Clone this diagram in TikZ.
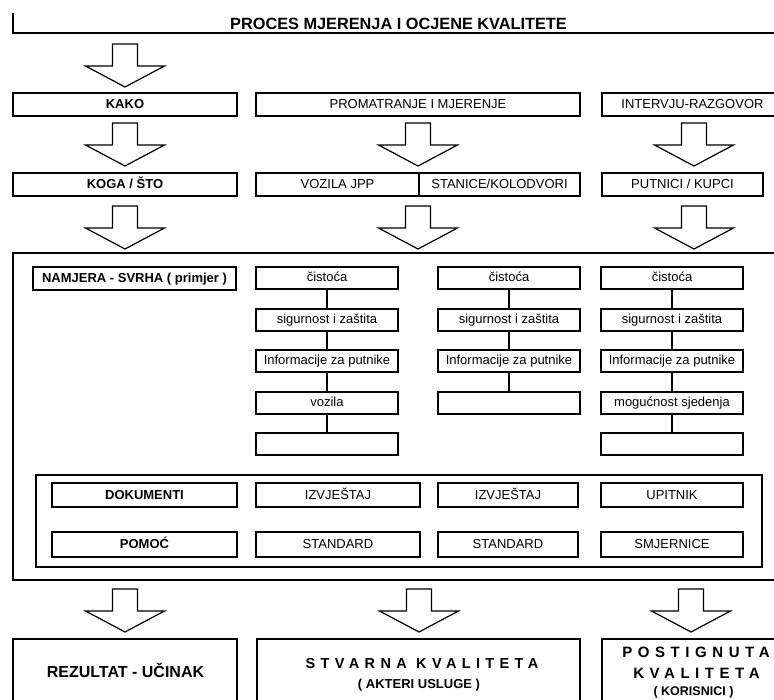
\documentclass[tikz,border=0pt]{standalone}
\usepackage{fontspec}
\setmainfont{Liberation Sans}
\usetikzlibrary{calc}
\newcommand\mybox[7][]{\node[boxst,#1,minimum width={#5-#3},minimum height={#6-#4}] (#2) at ({(#3+#5)/2},{(#4+#6)/2}) {#7};}
\begin{document}
\begin{tikzpicture}[x=1pt,y=-1pt,
  boxst/.style={draw, line width=1.5pt, inner sep=0pt, outer sep=0pt, text height=9.5pt, text depth=1.5pt, font=\fontsize{13}{15}\selectfont},
  bold/.style={font=\bfseries\fontsize{13}{15}\selectfont},
  frameln/.style={line width=1.8pt},
  conn/.style={line width=1.4pt},
  blockarrow/.pic={\draw[line width=1.2pt, line join=miter] (-12.5,0) -- (12.5,0) -- (12.5,22) -- (39.5,22) -- (0,43) -- (-39.5,22) -- (-12.5,22) -- cycle;},
  restext/.style={anchor=base, inner sep=0pt, font=\bfseries\fontsize{15}{17}\selectfont},
  spaced/.style={anchor=base, inner sep=0pt, font=\bfseries\fontsize{14.5}{17}\selectfont\addfontfeatures{LetterSpace=37}},
  subtext/.style={anchor=base, inner sep=0pt, font=\bfseries\fontsize{12.5}{14}\selectfont}
]
\useasboundingbox (0,0) rectangle (774,700);
\clip (0,0) rectangle (774,700);
\fill[white] (0,0) rectangle (774,700);

% title
\node[anchor=base, inner sep=0pt, font=\bfseries\fontsize{16.3}{18}\selectfont] (title) at (398.5,30) {PROCES MJERENJA I OCJENE KVALITETE};
\draw[frameln] (13,13) -- (13,33) -- (790,33);

\pic at (125,44) {blockarrow};

% row 1
\mybox[bold]{kako}{13}{93}{237}{116}{KAKO}
\mybox{prom}{256}{93}{580}{116}{PROMATRANJE I MJERENJE}
\mybox{interv}{602}{93}{783}{116}{INTERVJU-RAZGOVOR}

\pic at (125,123) {blockarrow};
\pic at (418,123) {blockarrow};
\pic at (694,123) {blockarrow};

% row 2
\mybox[bold]{koga}{13}{173}{237}{196}{KOGA / ŠTO}
\mybox{vozila}{256}{173}{419}{196}{VOZILA JPP}
\mybox{stanice}{419}{173}{580}{196}{STANICE/KOLODVORI}
\mybox{putnici}{602}{173}{763}{196}{PUTNICI / KUPCI}

\pic at (125,206) {blockarrow};
\pic at (418,206) {blockarrow};
\pic at (694,206) {blockarrow};

% main box
\mybox[line width=1.8pt]{main}{13}{253}{790}{580}{}
\mybox[bold]{namjera}{33}{267}{236}{290}{NAMJERA - SVRHA ( primjer )}

% column 1
\mybox{aa}{256}{267}{398}{289}{čistoća}
\mybox{ab}{256}{309}{398}{331}{sigurnost i zaštita}
\mybox{ac}{256}{350}{398}{372}{Informacije za putnike}
\mybox{ad}{256}{392}{398}{414}{vozila}
\mybox{ae}{256}{433}{398}{455}{}
\draw[conn] (aa) -- (ab); \draw[conn] (ab) -- (ac); \draw[conn] (ac) -- (ad); \draw[conn] (ad) -- (ae);

% column 2
\mybox{ba}{438}{267}{580}{289}{čistoća}
\mybox{bb}{438}{309}{580}{331}{sigurnost i zaštita}
\mybox{bc}{438}{350}{580}{372}{Informacije za putnike}
\mybox{bd}{438}{392}{580}{414}{}
\draw[conn] (ba) -- (bb); \draw[conn] (bb) -- (bc); \draw[conn] (bc) -- (bd);

% column 3
\mybox{ca}{601}{267}{743}{289}{čistoća}
\mybox{cb}{601}{309}{743}{331}{sigurnost i zaštita}
\mybox{cc}{601}{350}{743}{372}{Informacije za putnike}
\mybox{cd}{601}{392}{743}{414}{mogućnost sjedenja}
\mybox{ce}{601}{433}{743}{455}{}
\draw[conn] (ca) -- (cb); \draw[conn] (cb) -- (cc); \draw[conn] (cc) -- (cd); \draw[conn] (cd) -- (ce);

% inner box
\mybox[line width=1.8pt]{inner}{36}{475}{762}{567}{}
\mybox[bold]{dok}{52}{483}{237}{507}{DOKUMENTI}
\mybox{izv1}{256}{483}{420}{507}{IZVJEŠTAJ}
\mybox{izv2}{438}{483}{578}{507}{IZVJEŠTAJ}
\mybox{upit}{601}{483}{743}{507}{UPITNIK}
\mybox[bold]{pomoc}{52}{532}{237}{557}{POMOĆ}
\mybox{std1}{256}{532}{420}{557}{STANDARD}
\mybox{std2}{438}{532}{578}{557}{STANDARD}
\mybox{smj}{601}{532}{743}{557}{SMJERNICE}

\pic at (125,589) {blockarrow};
\pic at (419,589) {blockarrow};
\pic at (691,589) {blockarrow};

% results
\mybox[line width=1.8pt]{rez}{13}{639}{237}{720}{}
\mybox[line width=1.8pt]{stv}{257}{639}{580}{720}{}
\mybox[line width=1.8pt]{post}{602}{639}{790}{720}{}
\node[restext, font=\bfseries\fontsize{16}{18}\selectfont] (rezt) at (125.5,677.5) {REZULTAT - UČINAK};
\node[spaced] (stvt) at (422,668.5) {STVARNA KVALITETA};
\node[subtext, font=\bfseries\fontsize{13}{15}\selectfont] (stvs) at (419,688) {( AKTERI USLUGE )};
\node[spaced, font=\bfseries\fontsize{15}{17}\selectfont\addfontfeatures{LetterSpace=37}] (postt) at (696,657) {POSTIGNUTA};
\node[spaced, font=\bfseries\fontsize{15}{17}\selectfont\addfontfeatures{LetterSpace=37}] (postk) at (696.5,678) {KVALITETA};
\node[subtext] (posts) at (693.5,695) {( KORISNICI )};
\end{tikzpicture}
\end{document}
